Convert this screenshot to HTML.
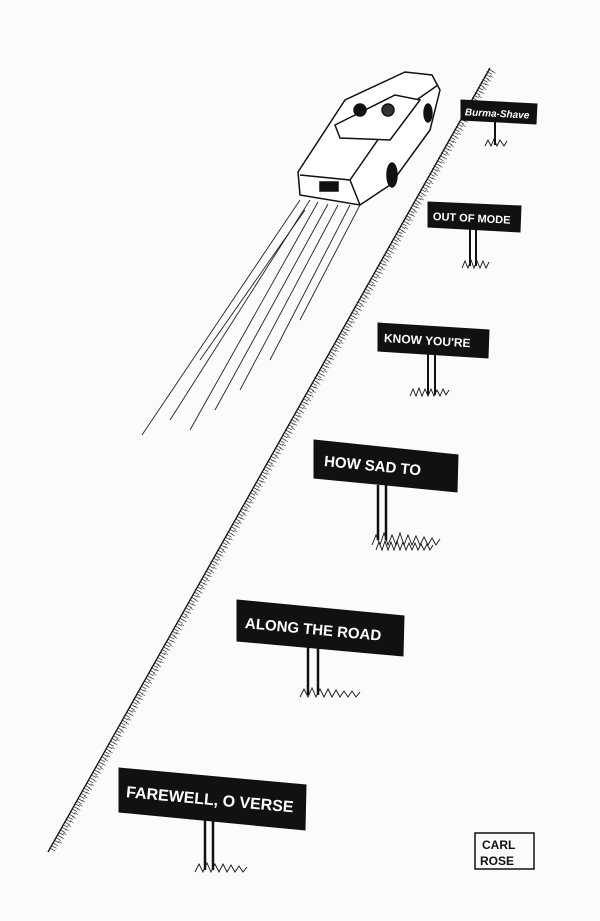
<!DOCTYPE html>
<html><head><meta charset="utf-8"><style>
html,body{margin:0;padding:0;background:#fbfbfa;}
svg{display:block}
.t{font-family:"Liberation Sans",sans-serif;font-weight:bold;fill:#fff;}
</style></head><body>
<svg width="600" height="921" viewBox="0 0 600 921" xmlns="http://www.w3.org/2000/svg">
<rect width="600" height="921" fill="#fbfbfa"/>
<!-- road edge grass -->
<g stroke="#111" fill="none">
<path d="M490,68 L48,852" stroke-width="1.3"/>
<path d="M491,70 L52,850" stroke-width="6" stroke-dasharray="0.8 2.2" opacity="0.8"/>
<path d="M494,72 L58,846" stroke-width="4" stroke-dasharray="0.7 4" opacity="0.7"/>
</g>
<!-- speed lines -->
<g stroke="#222" stroke-width="0.9" fill="none">
<path d="M300,200 L142,435"/><path d="M310,200 L170,420"/><path d="M318,202 L190,430"/>
<path d="M328,204 L215,410"/><path d="M338,205 L240,390"/><path d="M350,205 L270,360"/>
<path d="M360,205 L300,320"/><path d="M305,210 L200,360"/>
</g>
<!-- car -->
<g stroke="#111" stroke-width="1.5" fill="#fff">
<path d="M298,172 L345,100 L405,72 L432,75 L440,90 L430,130 L390,185 L360,205 L300,195 Z"/>
<path d="M300,175 L350,180 L360,205" fill="none"/>
<path d="M350,180 L395,115 L438,85" fill="none"/>
<path d="M335,125 L395,95 L420,100 L390,140 L340,138 Z" fill="#fff"/>
<rect x="320" y="182" width="18" height="9" fill="#111"/>
<circle cx="360" cy="110" r="6" fill="#111"/><circle cx="388" cy="110" r="6" fill="#333"/>
<ellipse cx="392" cy="175" rx="5" ry="12" fill="#111"/>
<ellipse cx="428" cy="113" rx="4" ry="9" fill="#111"/>
</g>
<!-- signs -->
<g fill="#111" stroke="#111">
<line x1="495" y1="120" x2="495" y2="145" stroke-width="2"/>
<polygon points="461,100 537,104 536,124 461,120"/>
<line x1="470" y1="228" x2="470" y2="266" stroke-width="2"/><line x1="476" y1="228" x2="476" y2="266" stroke-width="2"/>
<polygon points="428,202 521,206 520,232 428,227"/>
<line x1="428" y1="352" x2="428" y2="395" stroke-width="2"/><line x1="435" y1="352" x2="435" y2="395" stroke-width="2"/>
<polygon points="378,323 489,330 488,358 378,351"/>
<line x1="378" y1="485" x2="378" y2="540" stroke-width="2.5"/><line x1="386" y1="485" x2="386" y2="540" stroke-width="2.5"/>
<polygon points="314,440 458,455 457,492 314,478"/>
<line x1="308" y1="645" x2="308" y2="695" stroke-width="2.5"/><line x1="318" y1="645" x2="318" y2="695" stroke-width="2.5"/>
<polygon points="237,600 404,616 403,656 237,641"/>
<line x1="205" y1="815" x2="205" y2="870" stroke-width="2.5"/><line x1="213" y1="815" x2="213" y2="870" stroke-width="2.5"/>
<polygon points="119,768 306,785 305,830 119,812"/>
</g>
<!-- grass at posts -->
<g stroke="#111" stroke-width="0.9" fill="none">
<path d="M485,146 l3,-6 l3,6 l3,-7 l3,7 l3,-6 l4,6 l3,-5"/>
<path d="M462,268 l3,-7 l3,7 l3,-8 l3,8 l3,-7 l3,7 l3,-7 l3,7 l3,-6"/>
<path d="M410,396 l3,-7 l3,7 l3,-8 l3,8 l3,-7 l3,7 l3,-7 l3,7 l3,-6 l3,6 l3,-7 l3,6 l3,-5"/>
<path d="M372,545 l4,-10 l4,10 l4,-12 l4,12 l4,-10 l4,10 l4,-12 l4,12 l4,-10 l4,10 l4,-9 l4,9 l4,-8 l4,8 l4,-7 l4,7 l4,-6"/>
<path d="M376,550 l3,-8 l3,8 l3,-9 l3,9 l3,-8 l3,8 l3,-9 l3,9 l3,-8 l3,8 l3,-7 l3,7 l3,-7 l3,7 l3,-6 l3,6 l3,-6 l3,6 l3,-5"/>
<path d="M300,697 l4,-8 l4,8 l4,-9 l4,9 l4,-8 l4,8 l4,-8 l4,8 l4,-7 l4,7 l4,-6 l4,6 l4,-6 l4,6 l4,-5"/>
<path d="M195,872 l4,-8 l4,8 l4,-9 l4,9 l4,-8 l4,8 l4,-8 l4,8 l4,-7 l4,7 l4,-6 l4,6 l4,-5"/>
</g>
<!-- sign text -->
<text class="t" x="465" y="117" font-size="10" font-style="italic" transform="rotate(3 499 112)">Burma-Shave</text>
<text class="t" x="433" y="222" font-size="11" transform="rotate(2.8 474 217)">OUT OF MODE</text>
<text class="t" x="384" y="345" font-size="12" transform="rotate(3.5 433 340)">KNOW YOU'RE</text>
<text class="t" x="324" y="472" font-size="15" transform="rotate(5.5 386 466)">HOW SAD TO</text>
<text class="t" x="245" y="635" font-size="15" transform="rotate(5.3 320 628)">ALONG THE ROAD</text>
<text class="t" x="126" y="805" font-size="16" transform="rotate(5.2 212 798)">FAREWELL, O VERSE</text>
<!-- signature -->
<rect x="475" y="833" width="59" height="36" fill="none" stroke="#111" stroke-width="1.5"/>
<text x="482" y="849" font-family="Liberation Sans,sans-serif" font-size="12" font-weight="bold" fill="#111">CARL</text>
<text x="480" y="865" font-family="Liberation Sans,sans-serif" font-size="12" font-weight="bold" fill="#111">ROSE</text>
</svg>
</body></html>
